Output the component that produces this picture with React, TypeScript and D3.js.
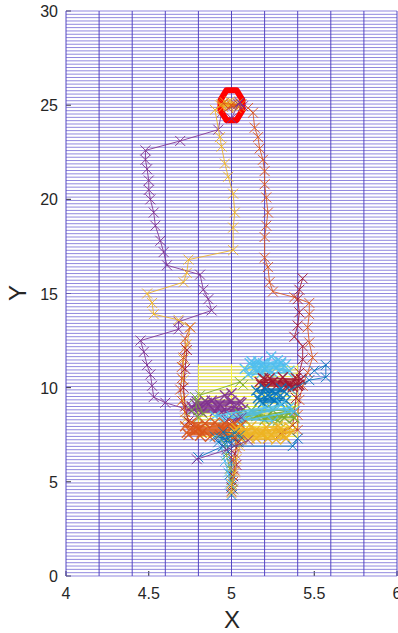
import React from 'react'
import * as d3 from 'd3'

type Pt = [number, number]

const xTicks = [4, 4.5, 5, 5.5, 6]
const yTicks = [0, 5, 10, 15, 20, 25, 30]
const xTickLabels = ['4', '4.5', '5', '5.5', '6']
const yTickLabels = ['0', '5', '10', '15', '20', '25', '30']

// MATLAB default line colours
const C = {
  blue: '#0072BD', orange: '#D95319', yellow: '#EDB120', purple: '#7E2F8E',
  green: '#77AC30', cyan: '#4DBEEE', red: '#A2142F',
}

// long trajectories
const purpleMain: Pt[] = [[5.05,25.1],[4.94,24.6],[4.92,23.7],[4.69,23.1],[4.48,22.6],[4.48,22.1],[4.49,21.6],[4.50,21.0],[4.50,20.5],[4.51,20.0],[4.53,19.3],[4.54,18.6],[4.57,17.8],[4.59,17.2],[4.61,16.5],[4.81,16.0],[4.83,15.2],[4.86,14.7],[4.88,14.1],[4.68,13.5],[4.68,13.1],[4.45,12.5],[4.47,11.9],[4.49,11.2],[4.51,10.7],[4.52,10.1],[4.53,9.5],[4.60,9.2],[4.75,8.8]]
const yellowMain: Pt[] = [[4.97,25.1],[4.90,24.75],[4.93,23.3],[4.94,22.8],[4.96,21.9],[4.98,21.2],[5.01,20.3],[5.02,19.3],[5.01,18.5],[5.01,17.3],[4.74,16.8],[4.73,16.1],[4.71,15.6],[4.49,15.0],[4.52,14.5],[4.53,13.9],[4.68,13.6],[4.75,13.2],[4.73,12.3],[4.71,11.5],[4.71,10.4],[4.71,9.4],[4.72,8.3]]
const orangeMain: Pt[] = [[5.10,24.85],[5.13,24.6],[5.14,23.8],[5.16,23.3],[5.17,22.7],[5.19,22.1],[5.20,21.5],[5.20,20.8],[5.21,20.1],[5.22,19.3],[5.21,18.6],[5.20,18.0],[5.20,16.9],[5.22,16.4],[5.23,15.6],[5.25,15.1],[5.38,14.8],[5.47,14.5],[5.47,13.9],[5.46,13.2],[5.47,12.4],[5.49,11.6],[5.46,10.8],[5.43,10.1],[5.41,9.35],[5.40,8.55],[5.40,7.75],[5.30,7.5]]
const redMain: Pt[] = [[5.43,15.8],[5.41,15.2],[5.40,14.7],[5.41,14.0],[5.40,13.3],[5.38,12.7],[5.43,12.2],[5.43,11.5],[5.41,10.8],[5.40,10.1],[5.39,9.45],[5.38,8.7],[5.37,8.0],[5.30,7.6]]
const orangeLeft: Pt[] = [[4.75,13.2],[4.72,12.6],[4.72,12.1],[4.71,11.6],[4.70,11.1],[4.70,10.5],[4.69,9.9],[4.70,9.3],[4.72,8.7],[4.75,8.1],[4.80,7.8]]
const redLeft: Pt[] = [[4.73,12.0],[4.72,11.0],[4.71,10.0],[4.72,9.0],[4.74,8.2]]

// dense clusters near the bottom
const cyanBlob: Pt[] = [[5.08,11.0],[5.30,11.3],[5.12,11.4],[5.34,10.8],[5.10,10.7],[5.28,11.45],[5.14,11.05],[5.32,11.15],[5.16,11.4],[5.26,10.7],[5.12,11.2],[5.30,11.35],[5.18,10.75],[5.24,11.65],[5.20,11.0],[5.33,11.25],[5.15,10.85],[5.27,11.05],[5.11,11.3],[5.35,10.9],[5.19,11.3],[5.22,10.8]]
const redBlob: Pt[] = [[5.17,10.3],[5.40,10.1],[5.19,10.5],[5.37,10.05],[5.21,10.1],[5.42,10.45],[5.23,10.5],[5.35,10.1],[5.18,10.15],[5.39,10.5],[5.25,10.3],[5.33,10.05],[5.20,10.45],[5.41,10.15],[5.27,10.1],[5.31,10.55]]
const blueBlob: Pt[] = [[5.15,9.85],[5.30,9.95],[5.18,9.7],[5.32,9.8],[5.20,9.95],[5.27,9.65],[5.22,9.6],[5.17,9.3],[5.31,9.45],[5.19,9.2],[5.29,9.25],[5.23,9.5],[5.26,9.3],[5.16,9.45],[5.33,9.3]]
const blueRight: Pt[] = [[5.36,9.9],[5.47,10.4],[5.57,10.55],[5.57,11.2],[5.50,10.9]]
const purpleBlob: Pt[] = [[5.00,9.7],[4.96,9.6],[4.76,9.0],[5.06,9.2],[4.79,9.25],[5.03,8.75],[4.82,8.7],[5.00,9.3],[4.85,9.2],[4.97,8.75],[4.80,8.8],[5.05,9.25],[4.88,9.3],[4.94,8.7],[4.78,9.15],[5.02,9.0],[4.90,8.75],[4.99,9.25],[4.84,9.3],[5.07,8.85],[4.77,8.85],[4.93,9.1]]
const greenPath: Pt[] = [[4.81,9.6],[5.05,10.3],[5.07,10.15]]
const greenBlob: Pt[] = [[5.05,8.6],[5.32,8.4],[5.08,8.3],[5.36,8.8],[5.12,8.8],[5.28,8.25],[5.15,8.5],[5.38,8.4],[5.10,8.6],[5.25,8.8],[5.20,8.3],[5.34,8.65]]
const greenLeft: Pt[] = [[4.76,8.8],[4.80,8.4],[4.78,9.5],[4.83,8.6]]
const cyanMid: Pt[] = [[4.95,8.3],[5.35,8.95],[5.00,8.5],[5.30,9.1],[5.05,8.2],[5.38,8.75],[5.20,8.95],[4.90,8.5],[5.25,8.2]]
const purpleSmall: Pt[] = [[4.97,8.25],[5.06,8.4],[5.00,8.15],[5.04,8.35]]
const orangeBlob: Pt[] = [[4.72,7.95],[5.05,7.55],[4.74,7.5],[5.02,8.1],[4.76,8.15],[4.99,7.45],[4.78,7.7],[4.96,8.1],[4.81,7.45],[5.04,7.85],[4.84,8.1],[4.93,7.5],[4.75,7.8],[5.00,7.95],[4.87,7.4],[4.90,8.15],[4.79,7.95],[4.98,7.65],[4.73,7.6],[5.06,8.0],[4.82,7.6],[4.95,7.8]]
const yellowBlob: Pt[] = [[5.00,7.45],[5.36,7.65],[5.03,7.85],[5.33,7.3],[5.06,7.25],[5.30,7.85],[5.09,7.6],[5.27,7.25],[5.12,7.95],[5.24,7.5],[5.05,7.35],[5.35,7.9],[5.15,7.3],[5.21,7.9],[5.08,7.75],[5.32,7.45],[5.18,7.55],[5.02,7.7],[5.28,7.95],[5.11,7.3],[5.22,7.3],[5.14,7.7]]
const blueLow: Pt[] = [[4.90,7.4],[5.04,7.2],[4.92,7.1],[5.02,7.6],[4.95,7.65],[5.00,7.05],[4.93,7.35],[5.05,7.45]]

// the stem below the cluster
const stemBlue: Pt[] = [[4.97,7.2],[4.98,6.6],[5.00,6.0],[4.99,5.4],[5.00,4.8],[5.00,4.3]]
const stemOrange: Pt[] = [[5.02,7.4],[5.03,6.8],[5.01,6.2],[5.02,5.6],[5.01,5.0],[5.00,4.5]]
const stemGreen: Pt[] = [[4.96,7.0],[4.97,6.4],[4.99,5.7],[5.00,5.1],[5.01,4.6]]
const stemRed: Pt[] = [[5.04,7.1],[5.02,6.5],[5.03,5.9],[5.01,5.3],[5.00,4.7]]
const stemCyan: Pt[] = [[4.94,6.8],[4.96,6.1],[4.98,5.5],[4.99,4.9]]
const stemYellow: Pt[] = [[5.05,6.9],[5.03,6.2],[5.02,5.5],[5.00,4.9],[5.00,4.4]]
const blueWing: Pt[] = [[4.80,6.3],[4.95,6.9],[5.37,6.9],[5.40,7.3]]
const purpleWing: Pt[] = [[4.79,6.2],[4.97,6.7],[5.10,7.2]]

// start area
const startPoint: Pt = [5.0, 25.0]
const topYellow: Pt[] = [[4.93,25.0],[5.05,24.95],[4.96,25.15],[5.03,24.85],[4.99,25.2],[4.95,24.9],[5.04,25.1],[4.98,24.95],[5.01,25.1],[4.94,25.05]]
const topOrange: Pt[] = [[4.95,25.1],[5.03,25.0],[4.98,24.85],[5.06,25.05],[5.00,25.0]]
const topPurple: Pt[] = [[5.05,25.15],[5.07,24.95],[5.04,25.05],[5.00,24.3]]

// highlighted rectangle
const boxX = [4.8, 5.4]
const boxY = [7.3, 11.25]

const tracks: [Pt[], string][] = [
  [purpleMain, C.purple], [yellowMain, C.yellow], [orangeMain, C.orange], [redMain, C.red],
  [orangeLeft, C.orange], [redLeft, C.red], [cyanBlob, C.cyan], [redBlob, C.red],
  [blueBlob, C.blue], [blueRight, C.blue], [purpleBlob, C.purple], [greenPath, C.green],
  [greenBlob, C.green], [greenLeft, C.green], [cyanMid, C.cyan], [purpleSmall, C.purple],
  [orangeBlob, C.orange], [yellowBlob, C.yellow], [blueLow, C.blue],
  [stemBlue, C.blue], [stemOrange, C.orange], [stemGreen, C.green], [stemRed, C.red],
  [stemCyan, C.cyan], [stemYellow, C.yellow], [blueWing, C.blue], [purpleWing, C.purple],
]
const blobs = new Set<Pt[]>([cyanBlob, redBlob, blueBlob, purpleBlob, greenBlob, orangeBlob, yellowBlob, cyanMid])
const topTracks: [Pt[], string][] = [[topYellow, C.yellow], [topOrange, C.orange], [topPurple, C.purple]]

const width = 398
const height = 633

const App = () => {
  const x = d3.scaleLinear().domain([4, 6]).range([66, 397])
  const y = d3.scaleLinear().domain([0, 30]).range([576, 11])
  const line = d3.line<Pt>().x(d => x(d[0])).y(d => y(d[1]))
  const font = 'Liberation Sans, Arial, Helvetica, sans-serif'

  const vLines = d3.range(4, 6.001, 0.2)
  const hLines = d3.range(0, 30.001, 30 / 170)
  const boxH = hLines.filter(v => v >= boxY[0] && v <= boxY[1])
  const boxV = vLines.filter(v => v >= boxX[0] - 1e-6 && v <= boxX[1] + 1e-6)

  const cross = (p: Pt, s: number) => {
    const cx = x(p[0]), cy = y(p[1])
    return `M${cx - s},${cy - s}L${cx + s},${cy + s}M${cx - s},${cy + s}L${cx + s},${cy - s}`
  }

  const drawTrack = ([pts, col]: [Pt[], string], i: number) => {
    const dense = blobs.has(pts)
    return (
      <g key={i}>
        <path d={line(pts) || ''} fill="none" stroke={col} strokeWidth={dense ? 1.6 : 1} strokeOpacity={0.85} />
        <path d={pts.map(p => cross(p, 5)).join('')} fill="none" stroke={col} strokeWidth={dense ? 1.4 : 1} strokeOpacity={0.9} />
      </g>
    )
  }

  const cx0 = x(startPoint[0]), cy0 = y(startPoint[1])
  const oct = [[-5, -15], [5, -15], [11, -5], [11, 5], [5, 15], [-5, 15], [-11, 5], [-11, -5]]
    .map(([dx, dy]) => `${cx0 + dx},${cy0 + dy}`).join(' ')

  return (
    <svg width={width} height={height} style={{ position: 'absolute', left: 0, top: 0, background: '#fff' }}>
      {/* ticks */}
      {yTicks.map(t => (
        <line key={'yt' + t} x1={66} x2={71} y1={y(t)} y2={y(t)} stroke="#262626" />
      ))}
      {xTicks.map(t => (
        <line key={'xt' + t} x1={x(t)} x2={x(t)} y1={576} y2={571} stroke="#262626" />
      ))}
      {/* grid */}
      {hLines.map((v, i) => (
        <line key={'h' + i} x1={66} x2={397} y1={y(v)} y2={y(v)} stroke="#766ad6" strokeOpacity={0.8} strokeWidth={1} />
      ))}
      {vLines.map((v, i) => (
        <line key={'v' + i} x1={x(v)} x2={x(v)} y1={11} y2={576} stroke="#5546c2" strokeWidth={1} />
      ))}
      {boxH.map((v, i) => (
        <line key={'bh' + i} x1={x(boxX[0])} x2={x(boxX[1])} y1={y(v)} y2={y(v)} stroke="#f3ef3a" strokeWidth={1} />
      ))}
      {boxV.map((v, i) => (
        <line key={'bv' + i} x1={x(v)} x2={x(v)} y1={y(boxY[1])} y2={y(boxY[0])} stroke="#f3ef3a" strokeWidth={1} />
      ))}
      {/* trajectories */}
      {tracks.map(drawTrack)}
      <polygon points={oct} fill="none" stroke="#ff0000" strokeWidth={6} strokeLinejoin="round" />
      {topTracks.map(drawTrack)}
      {/* tick labels */}
      {yTicks.map((t, i) => (
        <text key={'yl' + t} x={58} y={y(t) + 6} textAnchor="end" fontFamily={font} fontSize={16} fill="#262626">{yTickLabels[i]}</text>
      ))}
      {xTicks.map((t, i) => (
        <text key={'xl' + t} x={x(t)} y={599} textAnchor="middle" fontFamily={font} fontSize={16} fill="#262626">{xTickLabels[i]}</text>
      ))}
      <text x={232} y={628} textAnchor="middle" fontFamily={font} fontSize={24} fill="#262626">X</text>
      <text transform="translate(26,293) rotate(-90)" textAnchor="middle" fontFamily={font} fontSize={24} fill="#262626">Y</text>
    </svg>
  )
}

export default App
